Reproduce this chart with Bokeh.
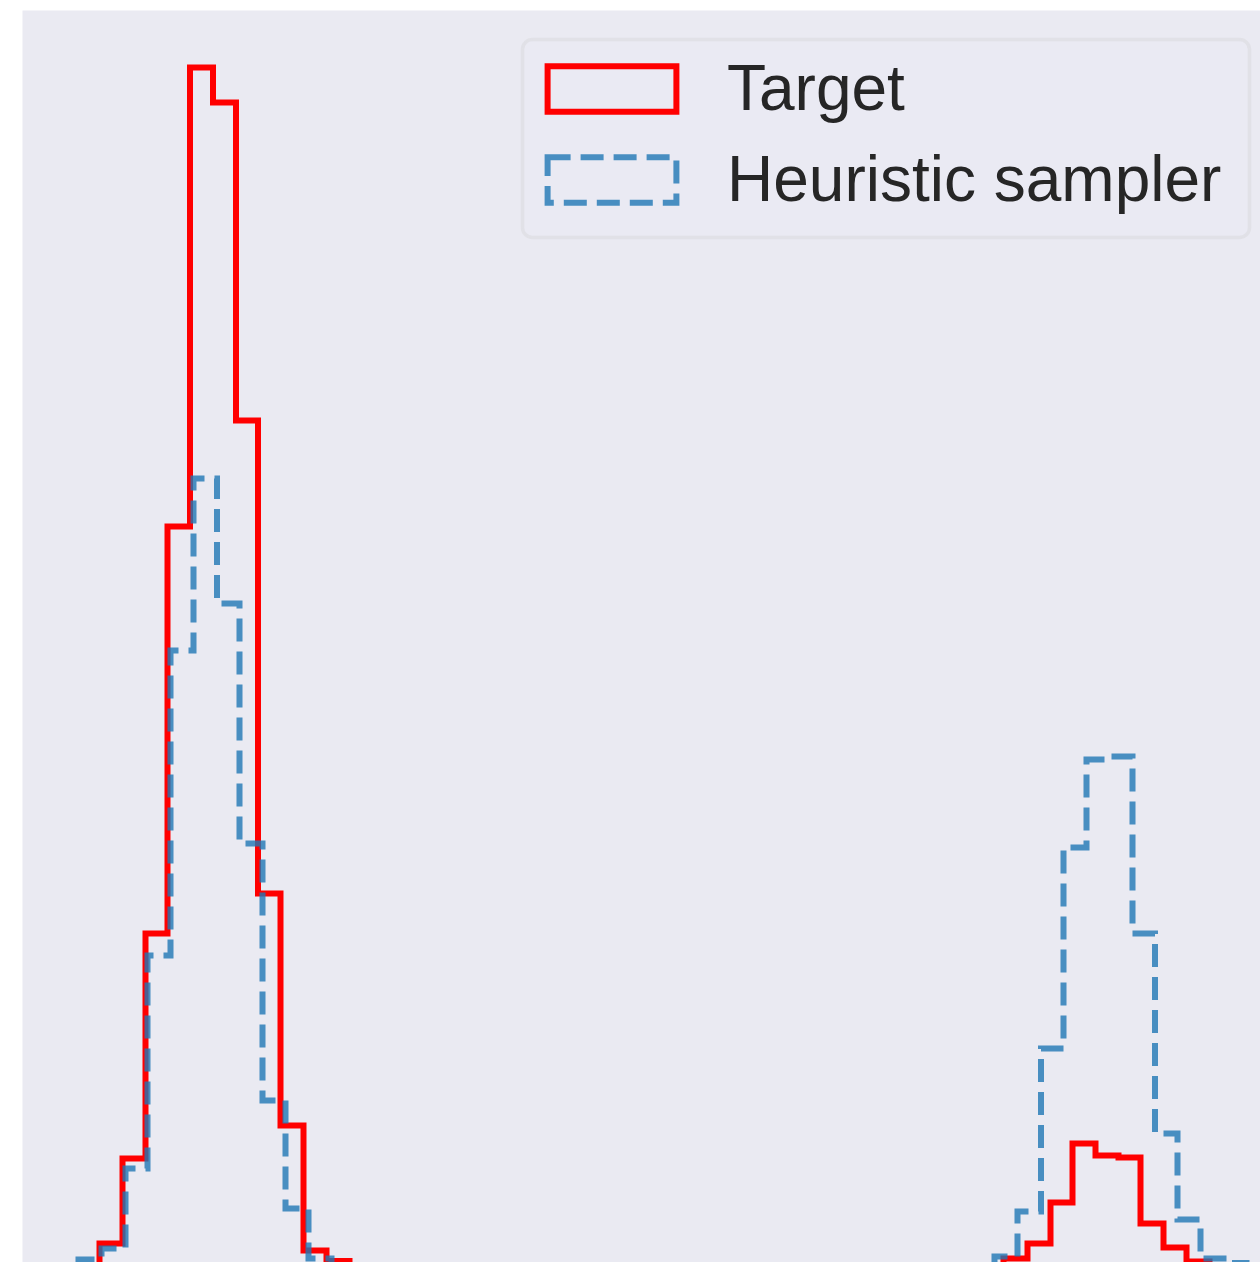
from bokeh.plotting import figure
from bokeh.models import Range1d, Legend, LegendItem, BoxAnnotation
from bokeh.embed import file_html
from bokeh.resources import INLINE

# ---- data (bin edges and bin heights, density units) ----
# Target distribution, left mode
target_left_edges = [0.54, 0.77, 1.00, 1.23, 1.45, 1.675, 1.905, 2.135, 2.355, 2.58, 2.81, 3.04, 3.27]
target_left_heights = [0.0015, 0.023, 0.108, 0.333, 0.740, 1.199, 1.164, 0.846, 0.373, 0.141, 0.016, 0.0055]
# Target distribution, right mode
target_right_edges = [9.81, 10.05, 10.28, 10.50, 10.73, 10.96, 11.18, 11.41, 11.64, 11.87]
target_right_heights = [0.008, 0.023, 0.064, 0.123, 0.111, 0.109, 0.043, 0.019, 0.005]

# Heuristic sampler, left mode
heur_left_edges = [0.56, 0.79, 1.03, 1.25, 1.48, 1.71, 1.945, 2.17, 2.40, 2.63, 2.86, 3.09]
heur_left_heights = [0.007, 0.018, 0.098, 0.311, 0.616, 0.788, 0.663, 0.423, 0.166, 0.058, 0.008]
# Heuristic sampler, right mode
heur_right_edges = [9.72, 9.95, 10.185, 10.41, 10.64, 10.87, 11.10, 11.325, 11.55, 11.78, 12.01, 12.24]
heur_right_heights = [0.010, 0.055, 0.218, 0.419, 0.507, 0.510, 0.333, 0.133, 0.047, 0.008, 0.0035]

labels = ["Target", "Heuristic sampler"]


def step_polygon(edges, heights):
    xs = [edges[0]]
    ys = [0.0]
    for i, h in enumerate(heights):
        xs += [edges[i], edges[i + 1]]
        ys += [h, h]
    xs.append(edges[-1])
    ys.append(0.0)
    return xs, ys


p = figure(
    width=1260, height=1262,
    output_backend="svg", toolbar_location=None,
    x_axis_location=None, y_axis_location=None,
    x_range=Range1d(0, 12.38), y_range=Range1d(0.004, 1.256),
    min_border_left=22, min_border_right=0, min_border_top=10, min_border_bottom=0,
    background_fill_color="#EAEAF2", border_fill_color="white",
)
p.outline_line_color = None
p.xgrid.visible = False
p.ygrid.visible = False

tx1, ty1 = step_polygon(target_left_edges, target_left_heights)
tx2, ty2 = step_polygon(target_right_edges, target_right_heights)
hx1, hy1 = step_polygon(heur_left_edges, heur_left_heights)
hx2, hy2 = step_polygon(heur_right_edges, heur_right_heights)

r_target = p.patches(xs=[tx1, tx2], ys=[ty1, ty2], fill_alpha=0,
                     line_color="red", line_width=6, line_join="miter")
r_heur = p.patches(xs=[hx1, hx2], ys=[hy1, hy2], fill_alpha=0,
                   line_color="#1f77b4", line_alpha=0.8, line_width=6,
                   line_dash="23 10", line_join="miter")

# legend frame (screen units relative to the plot frame)
frame_box = BoxAnnotation(
    left=500, right=1227, bottom=1025, top=1223,
    left_units="screen", right_units="screen", top_units="screen", bottom_units="screen",
    fill_color="#EAEAF2", fill_alpha=0.8,
    line_color="#CCCCCC", line_width=3.5, border_radius=10,
)
p.add_layout(frame_box)

legend = Legend(
    items=[LegendItem(label=labels[0], renderers=[r_target]),
           LegendItem(label=labels[1], renderers=[r_heur])],
    location=(509, 1046),
    margin=0,
    padding=10,
    spacing=17,
    glyph_width=161,
    glyph_height=57,
    label_standoff=35,
    label_height=74,
    label_text_font="Liberation Sans",
    label_text_font_size="64px",
    label_text_color="#262626",
    border_line_color=None,
    background_fill_alpha=0,
)
p.add_layout(legend)

open("out.html", "w").write(file_html(p, INLINE))
